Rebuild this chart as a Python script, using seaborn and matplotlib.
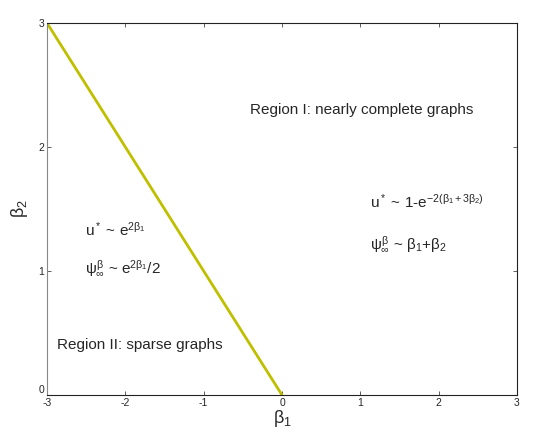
import matplotlib
matplotlib.use("Agg")
import matplotlib.pyplot as plt
import seaborn as sns
import pandas as pd

# Data
boundary_b1 = [-3, 0]
boundary_b2 = [3, 0]
xticks = [-3, -2, -1, 0, 1, 2, 3]
yticks = [0, 1, 2, 3]

sns.set_style("ticks")
plt.rcParams['font.family'] = ['Liberation Sans', 'DejaVu Sans']
plt.rcParams['mathtext.fontset'] = 'custom'
plt.rcParams['mathtext.rm'] = 'Liberation Sans'
plt.rcParams['mathtext.it'] = 'Liberation Sans'
plt.rcParams['mathtext.bf'] = 'Liberation Sans:bold'
plt.rcParams['mathtext.sf'] = 'Liberation Sans'

fig = plt.figure(figsize=(5.53, 4.41), dpi=100)
ax = fig.add_axes([47/553, 1-395/441, 470/553, 372/441])

df = pd.DataFrame({"b1": boundary_b1, "b2": boundary_b2})
sns.lineplot(data=df, x="b1", y="b2", ax=ax, color="#BFBF00", linewidth=2)

ax.set_xlim(-3, 3)
ax.set_ylim(0, 3)
ax.set_xticks(xticks)
ax.set_yticks(yticks)
ax.set_xticklabels([str(t) for t in xticks])
ax.set_yticklabels([str(t) for t in yticks])
ax.tick_params(direction='in', length=3, width=0.6, labelsize=7.5, top=True, right=True,
               color='#444444', pad=2)
ax.get_yticklabels()[0].set_verticalalignment('bottom')
for s in ax.spines.values():
    s.set_visible(True)
    s.set_linewidth(0.8)
    s.set_color('#222222')
ax.spines['left'].set_color('#888888')

ax.set_xlabel(r'$\beta_1$', fontsize=13, labelpad=0)
ax.set_ylabel(r'$\beta_2$', fontsize=13, labelpad=6)

fs = 11
ax.text(-0.41, 2.30, 'Region I: nearly complete graphs', fontsize=fs, va='center')
ax.text(1.12, 1.56, r'u$^*$ ~ 1-e$^{-2(\beta_1+3\beta_2)}$', fontsize=fs, va='center')
ax.text(1.12, 1.22, r'$\psi^{\beta}_{\infty}$ ~ $\beta_1$+$\beta_2$', fontsize=fs, va='center')
ax.text(-2.51, 1.33, r'u$^*$ ~ e$^{2\beta_1}$', fontsize=fs, va='center')
ax.text(-2.51, 1.02, r'$\psi^{\beta}_{\infty}$ ~ e$^{2\beta_1}$/2', fontsize=fs, va='center')
ax.text(-2.87, 0.40, 'Region II: sparse graphs', fontsize=fs, va='center')

fig.savefig("out.png", dpi=100)
